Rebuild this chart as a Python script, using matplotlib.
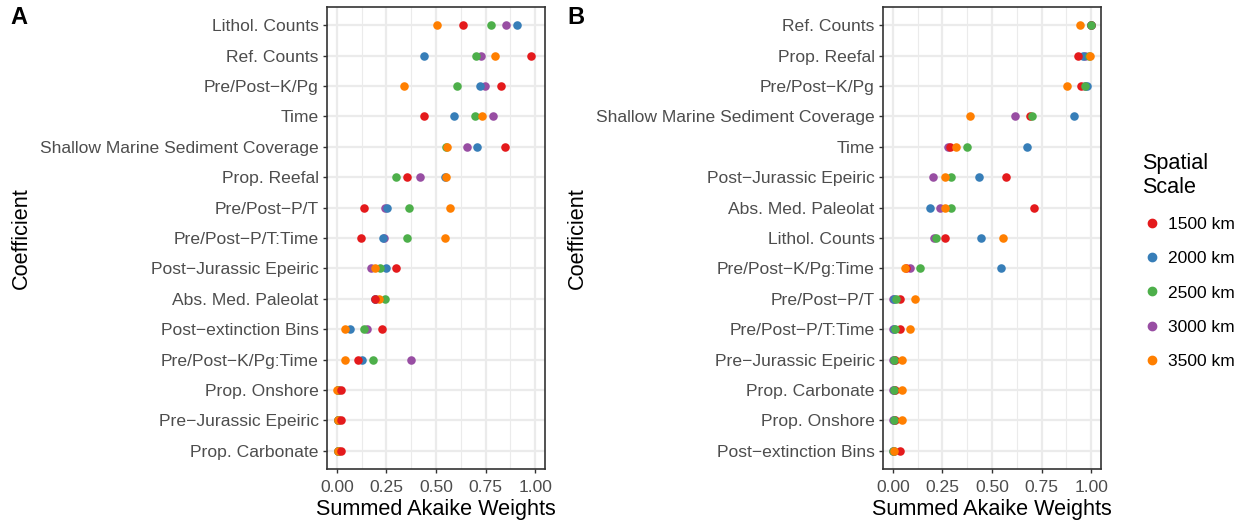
import numpy as np
import matplotlib
matplotlib.use("Agg")
import matplotlib.pyplot as plt
from matplotlib.lines import Line2D

plt.rcParams["font.family"] = ["Liberation Sans", "DejaVu Sans"]

scales = ["1500 km", "2000 km", "2500 km", "3000 km", "3500 km"]
colors = ["#E41A1C", "#377EB8", "#4DAF4A", "#984EA3", "#FF7F00"]

# panel A, top to bottom
coef_a = ["Lithol. Counts", "Ref. Counts", "Pre/Post\u2212K/Pg", "Time",
          "Shallow Marine Sediment Coverage", "Prop. Reefal", "Pre/Post\u2212P/T",
          "Pre/Post\u2212P/T:Time", "Post\u2212Jurassic Epeiric", "Abs. Med. Paleolat",
          "Post\u2212extinction Bins", "Pre/Post\u2212K/Pg:Time", "Prop. Onshore",
          "Pre\u2212Jurassic Epeiric", "Prop. Carbonate"]
a_1500 = [0.635, 0.98, 0.83, 0.438, 0.85, 0.355, 0.135, 0.123, 0.30, 0.19, 0.225, 0.108, 0.02, 0.02, 0.02]
a_2000 = [0.91, 0.438, 0.723, 0.592, 0.707, 0.545, 0.253, 0.232, 0.248, 0.193, 0.065, 0.128, 0.005, 0.003, 0.003]
a_2500 = [0.775, 0.70, 0.608, 0.697, 0.548, 0.297, 0.363, 0.353, 0.217, 0.245, 0.138, 0.18, 0.005, 0.003, 0.003]
a_3000 = [0.853, 0.728, 0.748, 0.787, 0.655, 0.418, 0.243, 0.24, 0.17, 0.19, 0.153, 0.375, 0.005, 0.003, 0.003]
a_3500 = [0.503, 0.80, 0.338, 0.733, 0.557, 0.552, 0.573, 0.545, 0.193, 0.213, 0.042, 0.043, 0.0, 0.003, 0.003]

# panel B, top to bottom
coef_b = ["Ref. Counts", "Prop. Reefal", "Pre/Post\u2212K/Pg",
          "Shallow Marine Sediment Coverage", "Time", "Post\u2212Jurassic Epeiric",
          "Abs. Med. Paleolat", "Lithol. Counts", "Pre/Post\u2212K/Pg:Time",
          "Pre/Post\u2212P/T", "Pre/Post\u2212P/T:Time", "Pre\u2212Jurassic Epeiric",
          "Prop. Carbonate", "Prop. Onshore", "Post\u2212extinction Bins"]
b_1500 = [1.0, 0.933, 0.951, 0.694, 0.288, 0.57, 0.713, 0.263, 0.067, 0.037, 0.034, 0.01, 0.01, 0.01, 0.037]
b_2000 = [1.0, 0.96, 0.978, 0.914, 0.678, 0.433, 0.188, 0.446, 0.543, 0.005, 0.005, 0.003, 0.003, 0.003, 0.007]
b_2500 = [1.0, 0.99, 0.97, 0.701, 0.376, 0.292, 0.292, 0.218, 0.139, 0.017, 0.01, 0.003, 0.003, 0.003, 0.0]
b_3000 = [1.0, 0.97, 0.97, 0.616, 0.278, 0.2, 0.236, 0.208, 0.084, 0.0, 0.0, 0.0, 0.0, 0.0, 0.0]
b_3500 = [0.943, 0.995, 0.877, 0.39, 0.32, 0.265, 0.265, 0.557, 0.06, 0.112, 0.084, 0.047, 0.047, 0.047, 0.003]

xticks = [0, 0.25, 0.5, 0.75, 1.0]
xticklabels = ["0.00", "0.25", "0.50", "0.75", "1.00"]


def panel(ax, coefs, series, order):
    n = len(coefs)
    ypos = np.arange(n, 0, -1)
    for idx in order:
        ax.scatter(series[idx], ypos, s=38, color=colors[idx], zorder=3, linewidths=0)
    ax.set_xlim(-0.05, 1.05)
    ax.set_ylim(0.4, n + 0.6)
    ax.set_yticks(ypos)
    ax.set_yticklabels(coefs, fontsize=12.6, color="#4D4D4D")
    ax.set_xticks(xticks)
    ax.set_xticklabels(xticklabels, fontsize=12.6, color="#4D4D4D")
    ax.set_xticks([0.125, 0.375, 0.625, 0.875], minor=True)
    ax.grid(True, which="major", color="#EBEBEB", lw=1.6, zorder=0)
    ax.grid(True, which="minor", axis="x", color="#EBEBEB", lw=0.8, zorder=0)
    ax.set_axisbelow(True)
    ax.tick_params(which="major", length=3, width=1, color="#333333")
    ax.tick_params(axis="x", which="major", pad=5)
    ax.tick_params(axis="y", which="major", pad=3)
    ax.tick_params(which="minor", length=0)
    for sp in ax.spines.values():
        sp.set_color("#333333")
        sp.set_linewidth(1.2)
    ax.set_xlabel("Summed Akaike Weights", fontsize=15.6, labelpad=3)
    ax.set_ylabel("Coefficient", fontsize=15.6, labelpad=6)
    return ax


fig = plt.figure(figsize=(12.46, 5.29), dpi=100)
ax_a = fig.add_axes([327 / 1246, 60 / 529, 218 / 1246, 462 / 529])
ax_b = fig.add_axes([883 / 1246, 60 / 529, 218 / 1246, 462 / 529])
panel(ax_a, coef_a, [a_1500, a_2000, a_2500, a_3000, a_3500], [3, 1, 2, 4, 0])
panel(ax_b, coef_b, [b_1500, b_2000, b_2500, b_3000, b_3500], [3, 1, 0, 2, 4])

fig.text(10 / 1246, 1 - 18 / 529, "A", fontsize=17, fontweight="bold", va="center")
fig.text(567 / 1246, 1 - 18 / 529, "B", fontsize=17, fontweight="bold", va="center")

handles = [Line2D([], [], ls="", marker="o", ms=6, color=c) for c in colors]
leg = fig.legend(handles, scales, title="Spatial\nScale", loc="upper left",
                 bbox_to_anchor=(1126 / 1246, 1 - 137 / 529), frameon=False,
                 fontsize=12.5, title_fontsize=15.6, alignment="left",
                 handletextpad=0.3, labelspacing=1.1, handlelength=1.2)

fig.savefig("out.png", dpi=100)
